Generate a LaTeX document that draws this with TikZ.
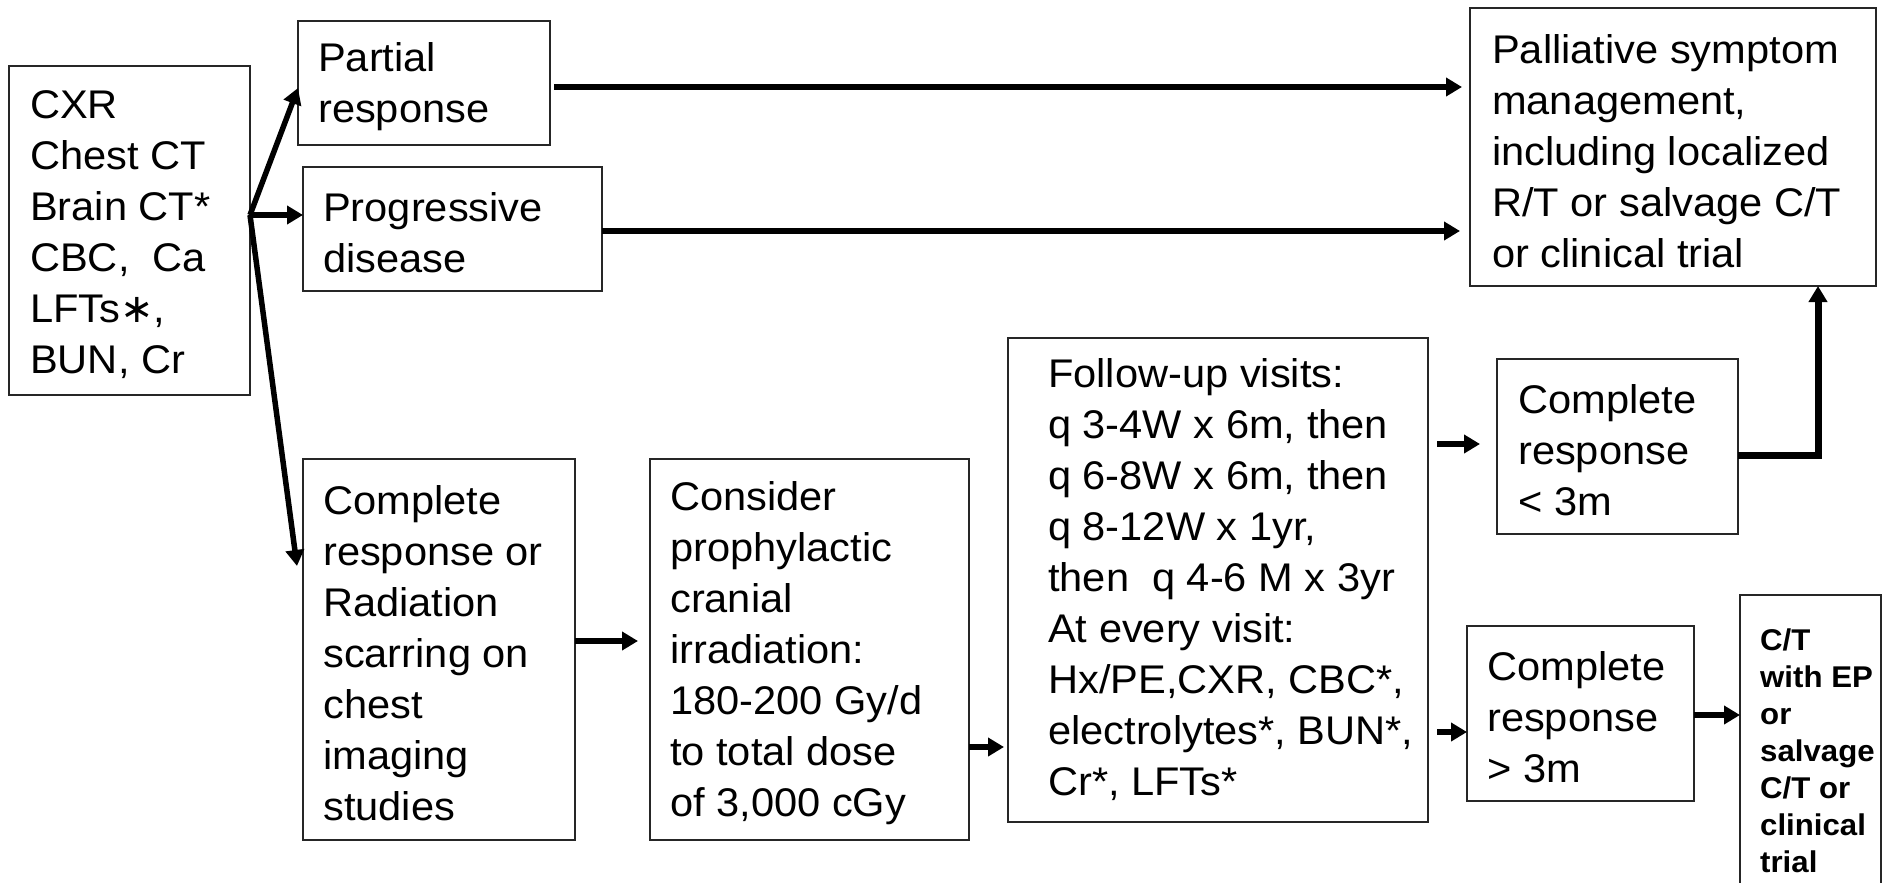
\documentclass[tikz,border=0pt]{standalone}
\usepackage{fontspec}
\setmainfont{Liberation Sans}[FakeStretch=1.04]
\newfontfamily\symfont{DejaVu Sans}
\usetikzlibrary{arrows.meta}
\begin{document}
\begin{tikzpicture}[x=1pt,y=-1pt,
  box/.style={draw=black!85, line width=2pt, anchor=north west, outer sep=0pt,
    inner sep=0pt},
  boxsize/.style 2 args={minimum width=#1, minimum height=#2},
  txt/.style={anchor=west, inner sep=0pt, align=left, yshift=-4pt,
    font=\fontsize{40pt}{51pt}\selectfont},
  smalltxt/.style={anchor=west, inner sep=0pt, align=left,
    font=\fontsize{30pt}{37pt}\selectfont\bfseries},
  flow/.style={line width=5.5pt, -{Triangle[length=16pt,width=18pt]}},
  flowbold/.style={line width=7pt, -{Triangle[length=16pt,width=18pt]}}]
\useasboundingbox (0,0) rectangle (1883,883);

% boxes
\node[box, boxsize={241pt}{329pt}] (tests) at (9,66) {};
\node[box, boxsize={252pt}{124pt}] (partial) at (298,21) {};
\node[box, boxsize={299pt}{124pt}] (progressive) at (303,167) {};
\node[box, boxsize={406pt}{278pt}] (palliative) at (1470,8) {};
\node[box, boxsize={272pt}{381pt}] (crbox) at (303,459) {};
\node[box, boxsize={319pt}{381pt}] (consider) at (650,459) {};
\node[box, boxsize={420pt}{484pt}] (followup) at (1008,338) {};
\node[box, boxsize={241pt}{175pt}] (crlt) at (1497,359) {};
\node[box, boxsize={227pt}{175pt}] (crgt) at (1467,626) {};
\node[box, boxsize={141pt}{300pt}] (final) at (1740,595) {};

% box texts
\node[txt] (tests-t) at ([xshift=21pt]tests.west)
  {CXR\\Chest CT\\Brain CT*\\CBC,\ \ Ca\\LFTs{\symfont ∗},\\BUN, Cr};
\node[txt] (partial-t) at ([xshift=20pt]partial.west)
  {Partial\\response};
\node[txt] (progressive-t) at ([xshift=20pt]progressive.west)
  {Progressive\\disease};
\node[txt] (palliative-t) at ([xshift=22pt]palliative.west)
  {Palliative symptom\\management,\\including localized\\R/T or salvage C/T\\or clinical trial};
\node[txt] (crbox-t) at ([xshift=20pt]crbox.west)
  {Complete\\response or\\Radiation\\scarring on\\chest\\imaging\\studies};
\node[txt] (consider-t) at ([xshift=20pt]consider.west)
  {Consider\\prophylactic\\cranial\\irradiation:\\180-200 Gy/d\\to total dose\\of 3,000 cGy};
\node[txt, yshift=4pt] (followup-t) at ([xshift=40pt]followup.west)
  {Follow-up visits:\\q 3-4W x 6m, then\\q 6-8W x 6m, then\\q 8-12W x 1yr,\\then\ \ q 4-6 M x 3yr\\At every visit:\\Hx/PE,CXR, CBC*,\\electrolytes*, BUN*,\\Cr*, LFTs*};
\node[txt] (crlt-t) at ([xshift=21pt]crlt.west)
  {Complete\\response\\< 3m};
\node[txt] (crgt-t) at ([xshift=20pt]crgt.west)
  {Complete\\response\\> 3m};
\node[smalltxt] (final-t) at ([xshift=20pt,yshift=-6pt]final.west)
  {C/T\\with EP\\or\\salvage\\C/T or\\clinical\\trial};

% connectors
\coordinate (br) at (250,215);
\draw[flow] (br) -- ([yshift=-5pt]partial.west);
\draw[flow] (br) -- (br -| progressive.west);
\draw[flow] (br) -- ([xshift=-6pt,yshift=83.5pt]crbox.west);
\draw[flow, shorten <=4pt, shorten >=8pt]
  ([yshift=-4pt]partial.east) -- ([yshift=-4pt]partial.east -| palliative.west);
\draw[flow, shorten >=10pt]
  ([yshift=-2pt]progressive.east) -- ([yshift=-2pt]progressive.east -| palliative.west);
\draw[flow, shorten >=12pt]
  ([yshift=8.5pt]crbox.east) -- ([yshift=8.5pt]crbox.east -| consider.west);
\draw[flow, shorten >=4pt]
  ([yshift=-97.5pt]consider.east) -- ([yshift=-97.5pt]consider.east -| followup.west);
\draw[flow, shorten <=9pt, shorten >=17pt]
  ([yshift=136pt]followup.east) -- ([yshift=136pt]followup.east -| crlt.west);
\draw[flow, shorten <=9pt]
  ([yshift=-152pt]followup.east) -- ([yshift=-152pt]followup.east -| crgt.west);
\draw[flow]
  ([yshift=-1.5pt]crgt.east) -- ([yshift=-1.5pt]crgt.east -| final.west);
\draw[flowbold] ([yshift=-8.5pt]crlt.east) -- ++(80,0) coordinate (bend)
  -- (bend |- palliative.south);
\end{tikzpicture}
\end{document}
